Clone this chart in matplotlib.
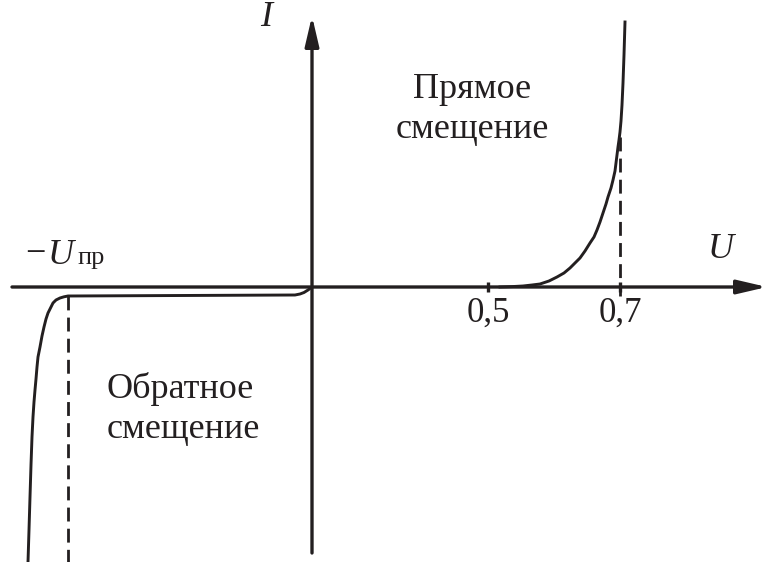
import matplotlib

matplotlib.use("Agg")
import matplotlib.pyplot as plt

# schematic diode I-V curve, units are arbitrary (origin at the axes crossing)
FWD_U = [188, 200, 211, 220, 228, 237, 245, 252, 258, 263, 268, 273, 278, 282, 285,
         288, 291, 294, 296, 299, 301, 303, 304, 305, 306, 307, 308, 309, 310, 311, 312, 313]
FWD_I = [0, 0.4, 1, 2, 3, 6, 10, 14, 19, 24, 29, 36, 44, 50, 57,
         65, 74, 83, 90, 99, 107, 116, 124, 132, 140, 147, 155, 166, 182, 204, 232, 265]

REV_U = [-284, -283, -282, -281, -280, -279, -278, -277, -276, -275, -274, -272, -270, -268,
         -266, -264, -261, -259, -256, -252, -248, -244, -17, -12, -8, -4, 0]
REV_I = [-275, -243, -210, -178, -150, -130, -115, -103, -92, -80, -70, -60, -49, -40,
         -32, -26, -20, -16, -13, -11, -9.8, -9, -8, -7, -5.5, -3, 0]

TICK_POS = [176, 308]
TICK_LABELS = ["0,5", "0,7"]

BREAKDOWN_U = -244
BREAKDOWN_I = -9
KNEE_I = 150

plt.rcParams["font.family"] = ["Liberation Serif", "DejaVu Serif"]

fig = plt.figure(figsize=(7.67, 5.62), dpi=100)
ax = fig.add_axes([0, 0, 1, 1])
ax.set_xlim(-312, 455)
ax.set_ylim(-275, 287)
ax.axis("off")

ink = "#231f20"
arrow = dict(arrowstyle="-|>,head_length=0.6,head_width=0.14", mutation_scale=30,
             color=ink, lw=2.4, shrinkA=0, shrinkB=0)
ax.annotate("", xy=(455, 0), xytext=(-300, 0), arrowprops=arrow)
ax.annotate("", xy=(0, 271), xytext=(0, -266), arrowprops=arrow)

for u in TICK_POS:
    ax.plot([u, u], [-5, 5], color=ink, lw=2.4, solid_capstyle="butt")
for u, lab in zip(TICK_POS, TICK_LABELS):
    ax.text(u, -26, lab, ha="center", va="center", fontsize=25, color=ink)

ax.plot(FWD_U, FWD_I, color=ink, lw=2.1, solid_joinstyle="round")
ax.plot(REV_U, REV_I, color=ink, lw=2.1, solid_joinstyle="round")

dash = dict(color=ink, lw=2.0, dashes=(5, 2.6))
ax.plot([TICK_POS[1], TICK_POS[1]], [KNEE_I, -9], **dash)
ax.plot([BREAKDOWN_U, BREAKDOWN_U], [BREAKDOWN_I, -275], **dash)

ax.text(409, 37, "U", style="italic", ha="center", va="center", fontsize=26, color=ink)
ax.text(-46, 269, "I", style="italic", ha="center", va="center", fontsize=26, color=ink)

ax.text(-277, 32, "\u2212", ha="center", va="center", fontsize=26, color=ink)
ax.text(-251, 32, "U", style="italic", ha="center", va="center", fontsize=26, color=ink)
ax.text(-235, 23, "пр", ha="left", va="baseline", fontsize=19, color=ink)

ax.text(160, 189, "Прямое", ha="center", va="baseline", fontsize=26, color=ink)
ax.text(160, 149, "смещение", ha="center", va="baseline", fontsize=26, color=ink)
ax.text(-205, -111, "Обратное", ha="left", va="baseline", fontsize=26, color=ink)
ax.text(-205, -151, "смещение", ha="left", va="baseline", fontsize=26, color=ink)

fig.savefig("out.png", dpi=100)
